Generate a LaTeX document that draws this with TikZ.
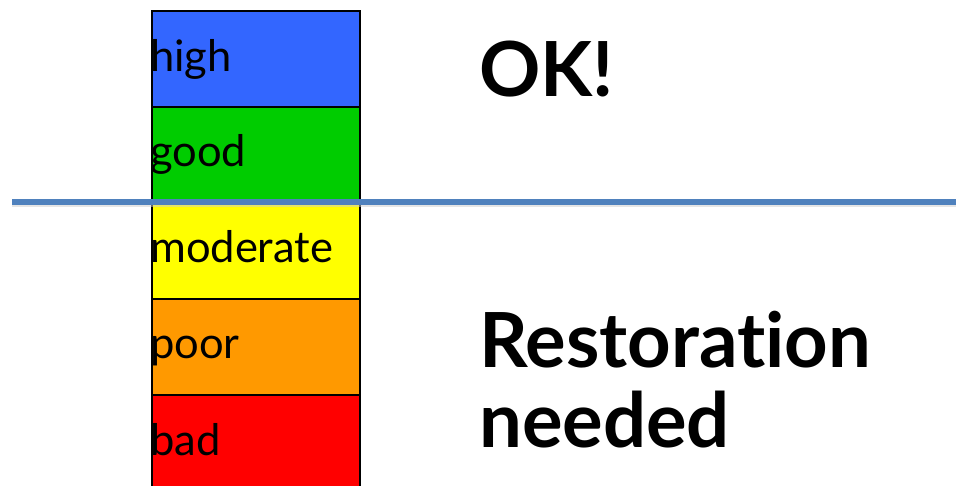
\documentclass[tikz,border=0pt]{standalone}
\usepackage{fontspec}
\setmainfont{Lato}[Ligatures=NoCommon]
\definecolor{cHigh}{RGB}{51,102,255}
\definecolor{cGood}{RGB}{0,204,0}
\definecolor{cMod}{RGB}{255,255,0}
\definecolor{cPoor}{RGB}{255,153,0}
\definecolor{cBad}{RGB}{255,0,0}
\definecolor{cLine}{RGB}{79,129,189}
\begin{document}
\begin{tikzpicture}[x=1pt,y=-1pt,
  band/.style={draw=black,line width=1.5pt,minimum width=208pt,minimum height=96pt,inner sep=0pt,anchor=north west},
  lbl/.style={anchor=base west,inner sep=0pt,font=\fontsize{43.5}{50}\selectfont},
  big/.style={anchor=base west,inner sep=0pt,font=\fontsize{76}{80}\selectfont\bfseries}]
\useasboundingbox (0,0) rectangle (956,485);
\clip (0,0) rectangle (956,485);
\node[band,fill=cHigh] (bhigh) at (151,10) {};
\node[band,fill=cGood] (bgood) at (151,106) {};
\node[band,fill=cMod] (bmod) at (151,202) {};
\node[band,fill=cPoor] (bpoor) at (151,298) {};
\node[band,fill=cBad] (bbad) at (151,394) {};
\node[lbl] (thigh) at (150,71) {high};
\node[lbl] (tgood) at (150,166) {good};
\node[lbl] (tmod) at (150,262) {moderate};
\node[lbl] (tpoor) at (150,358) {poor};
\node[lbl] (tbad) at (150,455) {bad};
\coordinate (l1) at (12,202);
\coordinate (l2) at (956,202);
\draw[black!20,line width=2.5pt,opacity=0.5] ([yshift=-4pt]l1) -- ([yshift=-4pt]l2);
\draw[cLine,line width=6pt] (l1) -- (l2);
\node[big] (ok) at (479,96) {OK!};
\node[big] (rest1) at (479,367) {Restoration};
\node[big] (rest2) at (479,447) {needed};
\end{tikzpicture}
\end{document}
